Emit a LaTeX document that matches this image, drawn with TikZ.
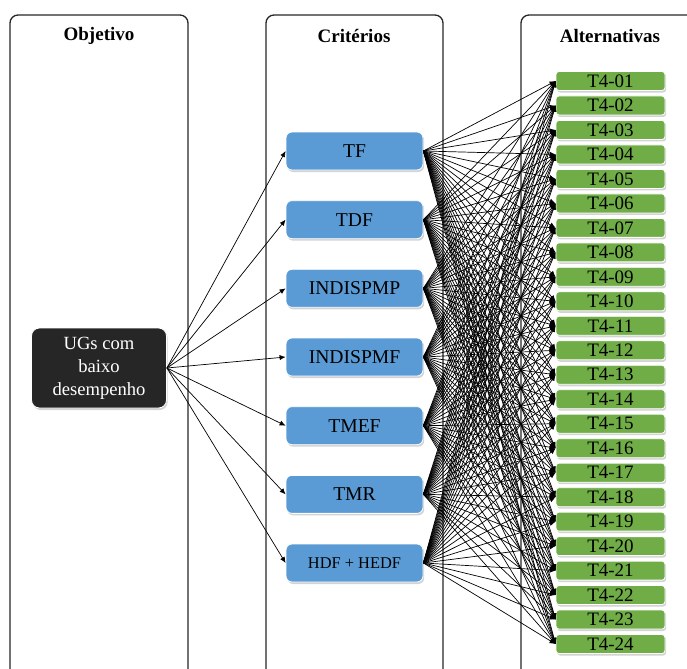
\documentclass[tikz,border=0pt]{standalone}
\usepackage{tikz}
\usetikzlibrary{shapes,arrows.meta,positioning,calc,shadows}
\usepackage{xcolor}
\usepackage{fontspec}
\setmainfont{Liberation Serif}
\definecolor{critblue}{HTML}{5B9BD5}
\definecolor{altgreen}{HTML}{70AD47}
\definecolor{objdark}{HTML}{262626}

\begin{document}
\begin{tikzpicture}[x=0.5pt, y=-0.5pt,
  panel/.style={draw=black!85, line width=0.65pt, rounded corners=4pt},
  head/.style={font=\fontsize{9.5}{11}\selectfont\bfseries, anchor=center},
  obj/.style={rectangle, rounded corners=4pt, draw=white, line width=0.4pt, fill=objdark, text=white, minimum width=67.5pt, minimum height=40pt, align=center, font=\fontsize{9.3}{11.5}\selectfont, drop shadow={shadow xshift=0.6pt, shadow yshift=-1pt, opacity=0.35}},
  crit/.style={rectangle, rounded corners=3pt, draw=white, line width=0.4pt, fill=critblue, minimum width=68.5pt, minimum height=19pt, font=\fontsize{9.8}{11}\selectfont, drop shadow={shadow xshift=0.6pt, shadow yshift=-1pt, opacity=0.35}},
  alt/.style={rectangle, rounded corners=1.5pt, draw=white, line width=0.4pt, fill=altgreen, minimum width=54.5pt, minimum height=9.5pt, inner sep=0pt, font=\fontsize{9.5}{10}\selectfont, drop shadow={shadow xshift=0.6pt, shadow yshift=-1pt, opacity=0.35}},
  link/.style={line width=0.35pt, -{Latex[length=3pt, width=2.6pt]}}
]
  \clip (0,0) rectangle (687,669);
  % panels
  \draw[panel] (10,690) -- (10,15) -- (188,15) -- (188,690);
  \draw[panel] (266,690) -- (266,15) -- (443,15) -- (443,690);
  \draw[panel] (521,690) -- (521,15) -- (710,15) -- (710,690);
  \node[head] (hobj) at (99,36) {Objetivo};
  \node[head] (hcrit) at (354,36) {Critérios};
  \node[head] (halt) at (610,36) {Alternativas};
  % objective
  \node[obj] (ug) at (99,368) {UGs com\\baixo\\desempenho};
  % criteria
  \foreach \lbl [count=\i] in {TF, TDF, INDISPMP, INDISPMF, TMEF, TMR} {
    \node[crit] (c\i) at (354.5, {151 + (\i-1)*68.67}) {\lbl};
  }
  \node[crit, font=\fontsize{8.2}{10}\selectfont] (c7) at (354.5,563) {HDF + HEDF};
  % alternatives
  \foreach \i in {1,...,24} {
    \pgfmathsetmacro{\yy}{81 + (\i-1)*24.48}
    \node[alt] (a\i) at (610.5,\yy) {T4-\ifnum\i<10 0\fi\i};
  }
  % connectors
  \foreach \j in {1,...,7} {
    \draw[link] (ug.east) -- (c\j.west);
  }
  \foreach \j in {1,...,7} {
    \foreach \i in {1,...,24} {
      \draw[link] (c\j.east) -- (a\i.west);
    }
  }
\end{tikzpicture}
\end{document}
